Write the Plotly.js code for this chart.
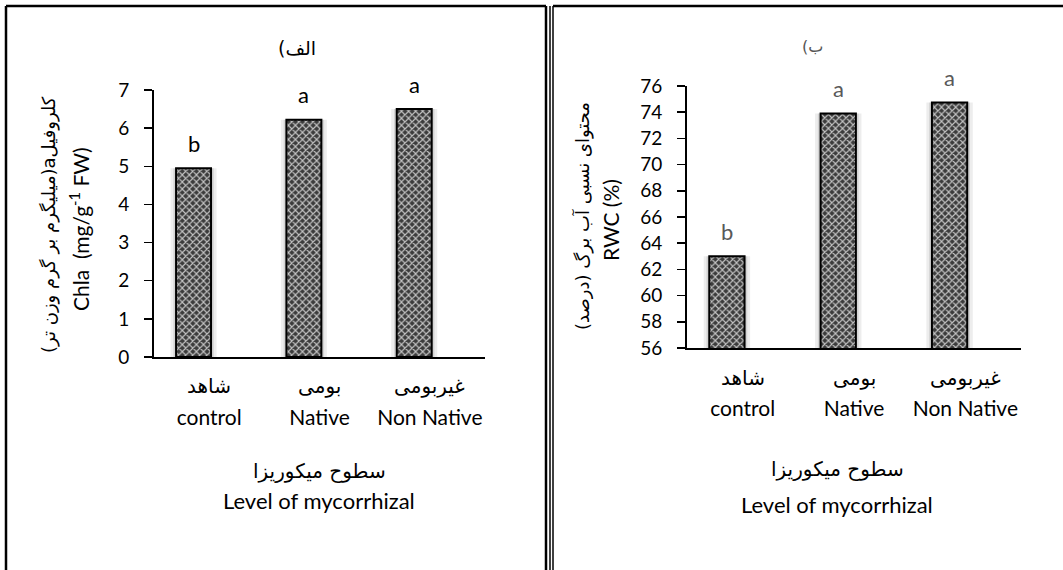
<!DOCTYPE html>
<html><head><meta charset="utf-8">
<script src="https://cdn.plot.ly/plotly-3.0.1.min.js"></script>
<style>html,body{margin:0;padding:0;background:#fff}#chart{width:1063px;height:570px}</style>
</head><body><div id="chart"></div>
<script>
// ---- data ----
const categories = ['control', 'Native', 'Non Native'];
const categoriesFa = ['شاهد', 'بومی', 'غیربومی'];
const chlaValues = [4.95, 6.22, 6.5];
const rwcValues = [63.0, 73.9, 74.75];
const chlaLetters = ['b', 'a', 'a'];
const rwcLetters = ['b', 'a', 'a'];
const chlaTicks = [0, 1, 2, 3, 4, 5, 6, 7];
const rwcTicks = [56, 58, 60, 62, 64, 66, 68, 70, 72, 74, 76];
const titleLeft = 'الف)';
const titleRight = 'ب)';
const yTitleLeftFa = 'کلروفیلa(میلیگرم بر گرم وزن تر)';
const yTitleLeftEn = 'Chla  (mg/g<sup>-1</sup> FW)';
const yTitleRightFa = 'محتوای نسبی آب برگ (درصد)';
const yTitleRightEn = 'RWC (%)';
const xTitleFa = 'سطوح میکوریزا';
const xTitleEn = 'Level of mycorrhizal';

// ---- layout helpers (pixels -> paper) ----
const W = 1063, H = 570;
const px = v => v / W;
const py = v => 1 - v / H;
const FONT = 'Lato, "DejaVu Sans", sans-serif';
const FA = '"DejaVu Sans", sans-serif';
const rtl = s => '\u202B' + s + '\u202C';

const barWidth = 0.317, barOffset = -0.30;
const barCenter = barOffset + barWidth / 2;

function barTraces(vals, xa, ya) {
  return [
    {type: 'bar', x: categories, y: vals, xaxis: xa, yaxis: ya,
     width: barWidth + 0.10, offset: barOffset - 0.05,
     marker: {color: 'rgba(0,0,0,0.07)', line: {width: 0}}, hoverinfo: 'skip', showlegend: false},
    {type: 'bar', x: categories, y: vals, xaxis: xa, yaxis: ya,
     width: barWidth + 0.05, offset: barOffset - 0.025,
     marker: {color: 'rgba(0,0,0,0.10)', line: {width: 0}}, hoverinfo: 'skip', showlegend: false},
    {type: 'bar', x: categories, y: vals, xaxis: xa, yaxis: ya,
     width: barWidth, offset: barOffset,
     marker: {color: '#444',
              pattern: {shape: 'x', fgcolor: '#c4c4c4', bgcolor: '#3c3c3c', size: 5, solidity: 0.4, fillmode: 'replace'},
              line: {color: '#000', width: 2}},
     showlegend: false}
  ];
}

const data = [...barTraces(chlaValues, 'x', 'y'), ...barTraces(rwcValues, 'x2', 'y2')];

const axX = (dom, anchor) => ({
  domain: dom, type: 'category', range: [-0.5, 2.5], anchor: anchor,
  showline: true, linecolor: '#000', linewidth: 2, ticks: '', showgrid: false, zeroline: false,
  tickvals: categories, ticktext: categories,
  tickfont: {family: FONT, size: 21, color: '#000'}, ticklabelstandoff: 41, fixedrange: true
});
const axY = (dom, rng, ticks, anchor) => ({
  domain: dom, range: rng, tickvals: ticks, anchor: anchor,
  showline: true, linecolor: '#000', linewidth: 2, ticks: 'outside', ticklen: 8, tickwidth: 1.5, tickcolor: '#000',
  showgrid: false, zeroline: false, ticklabelstandoff: 11,
  tickfont: {family: FONT, size: 19, color: '#000'}, fixedrange: true
});

const ann = (o) => Object.assign({showarrow: false, xanchor: 'center', yanchor: 'middle'}, o);
const annotations = [];
chlaValues.forEach((v, i) => annotations.push(ann({xref: 'x', yref: 'y', x: i + barCenter, y: v, text: chlaLetters[i],
  yshift: 25, font: {family: FONT, size: 22, color: '#000'}})));
rwcValues.forEach((v, i) => annotations.push(ann({xref: 'x2', yref: 'y2', x: i + barCenter, y: v, text: rwcLetters[i],
  yshift: 25, font: {family: FONT, size: 22, color: '#595959'}})));
categoriesFa.forEach((t, i) => {
  annotations.push(ann({xref: 'x', yref: 'paper', x: i, y: py(386), text: rtl(t), font: {family: FA, size: 20, color: '#000'}}));
  annotations.push(ann({xref: 'x2', yref: 'paper', x: i, y: py(378), text: rtl(t), font: {family: FA, size: 20, color: '#000'}}));
});
annotations.push(
  ann({xref: 'paper', yref: 'paper', x: px(297), y: py(48), text: rtl(titleLeft), font: {family: FA, size: 19, color: '#000'}}),
  ann({xref: 'paper', yref: 'paper', x: px(812), y: py(46), text: rtl(titleRight), font: {family: FA, size: 16, color: '#555'}}),
  ann({xref: 'paper', yref: 'paper', x: px(49), y: py(225), text: rtl(yTitleLeftFa), textangle: -90, font: {family: FA, size: 18, color: '#000'}}),
  ann({xref: 'paper', yref: 'paper', x: px(79), y: py(229), text: yTitleLeftEn, textangle: -90, font: {family: FONT, size: 21, color: '#000'}}),
  ann({xref: 'paper', yref: 'paper', x: px(582), y: py(216), text: rtl(yTitleRightFa), textangle: -90, font: {family: FA, size: 18, color: '#000'}}),
  ann({xref: 'paper', yref: 'paper', x: px(610), y: py(220), text: yTitleRightEn, textangle: -90, font: {family: FONT, size: 21, color: '#000'}}),
  ann({xref: 'paper', yref: 'paper', x: px(319), y: py(471), text: rtl(xTitleFa), font: {family: FA, size: 20, color: '#000'}}),
  ann({xref: 'paper', yref: 'paper', x: px(319), y: py(500), text: xTitleEn, font: {family: FONT, size: 22, color: '#000'}}),
  ann({xref: 'paper', yref: 'paper', x: px(837), y: py(469), text: rtl(xTitleFa), font: {family: FA, size: 20, color: '#000'}}),
  ann({xref: 'paper', yref: 'paper', x: px(837), y: py(504), text: xTitleEn, font: {family: FONT, size: 22, color: '#000'}})
);

const line = (x0, y0, x1, y1, w) => ({type: 'line', xref: 'paper', yref: 'paper', x0: px(x0), y0: py(y0), x1: px(x1), y1: py(y1), line: {color: '#000', width: w}});
const shapes = [
  line(6, 6, 546, 6, 2.5), line(6, 6, 6, 575, 2.5), line(546, 6, 546, 575, 2.5),
  line(550, 6, 550, 575, 1.5), line(553, 6, 1070, 6, 2.5), line(553, 6, 553, 575, 1.5)
];

const layout = {
  width: W, height: H, margin: {l: 0, r: 0, t: 0, b: 0},
  paper_bgcolor: '#fff', plot_bgcolor: 'rgba(0,0,0,0)', barmode: 'overlay', showlegend: false,
  xaxis: axX([px(154), px(485)], 'y'),
  yaxis: axY([py(357), py(90)], [0, 7], chlaTicks, 'x'),
  xaxis2: axX([px(687), px(1021)], 'y2'),
  yaxis2: axY([py(348), py(86)], [56, 76], rwcTicks, 'x2'),
  annotations: annotations, shapes: shapes
};
Plotly.newPlot('chart', data, layout, {staticPlot: true});
</script></body></html>
